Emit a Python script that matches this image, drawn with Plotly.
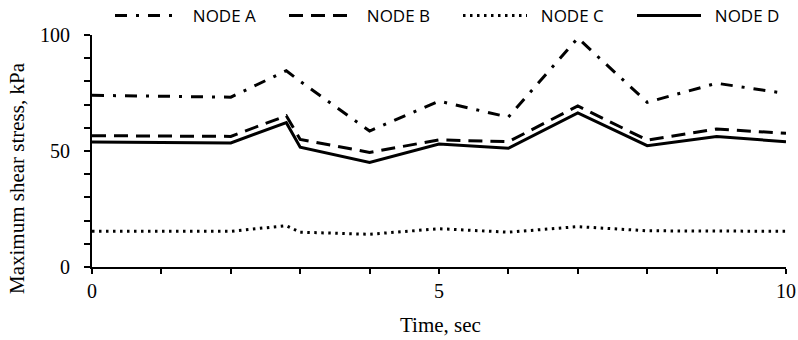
import plotly.graph_objects as go

time = [0, 2, 2.8, 3, 4, 5, 6, 7, 8, 9, 10]
node_a = [74.0, 73.2, 84.6, 80.0, 58.6, 71.5, 64.6, 98.7, 71.0, 79.2, 74.8]
node_b = [56.6, 56.3, 65.2, 55.0, 49.4, 54.8, 54.0, 69.4, 54.7, 59.5, 57.6]
node_c = [15.4, 15.4, 17.8, 15.0, 14.1, 16.5, 15.0, 17.4, 15.6, 15.6, 15.4]
node_d = [53.9, 53.5, 62.2, 51.6, 45.1, 53.0, 51.2, 66.4, 52.3, 56.2, 54.0]

series = [
    ("NODE A", node_a, "12px,9px,3px,9px"),
    ("NODE B", node_b, "14px,8px"),
    ("NODE C", node_c, "2.5px,4.5px"),
    ("NODE D", node_d, "solid"),
]

fig = go.Figure()
for name, vals, dash in series:
    fig.add_trace(go.Scatter(x=time, y=vals, name="\u00a0\u00a0" + name, mode="lines",
                             line=dict(color="black", width=3, dash=dash)))

W, H = 798, 340
L, R, T, B = 92, 12, 35, 73
fig.update_layout(
    width=W, height=H,
    margin=dict(l=L, r=R, t=T, b=B, autoexpand=False),
    plot_bgcolor="white", paper_bgcolor="white",
    font=dict(family="Liberation Serif", color="black"),
    showlegend=True,
    legend=dict(orientation="h", xref="container", yref="container",
                x=110/W, y=1 - 16/H, xanchor="left", yanchor="middle",
                font=dict(family="Open Sans", size=17, color="black"),
                entrywidth=95, entrywidthmode="pixels", itemwidth=64,
                bgcolor="rgba(0,0,0,0)"),
    xaxis=dict(range=[0, 10], dtick=5, tick0=0, showgrid=False, zeroline=False,
               showline=True, linecolor="black", linewidth=2,
               ticks="outside", ticklen=5, tickwidth=2, tickcolor="black",
               tickfont=dict(size=20), ticklabelstandoff=0,
               minor=dict(dtick=1, ticks="outside", ticklen=5, tickwidth=2, tickcolor="black", showgrid=False)),
    yaxis=dict(range=[0, 100], dtick=50, tick0=0, showgrid=False, zeroline=False,
               showline=True, linecolor="black", linewidth=2,
               ticks="outside", ticklen=6, tickwidth=2, tickcolor="black",
               tickfont=dict(size=20), ticklabelstandoff=10,
               minor=dict(dtick=10, ticks="outside", ticklen=6, tickwidth=2, tickcolor="black", showgrid=False)),
    annotations=[
        dict(text="Time, sec", xref="paper", yref="paper",
             x=(440 - L) / (W - L - R), y=(H - B - 325) / (H - T - B),
             xanchor="center", yanchor="middle", showarrow=False,
             font=dict(family="Liberation Serif", size=21, color="black")),
        dict(text="Maximum shear stress, kPa", xref="paper", yref="paper",
             x=(17 - L) / (W - L - R), y=(H - B - 178) / (H - T - B),
             xanchor="center", yanchor="middle", showarrow=False, textangle=-90,
             font=dict(family="Liberation Serif", size=21, color="black")),
    ],
)

fig.write_html("out.html", config={"displayModeBar": False},
               post_script="document.body.style.margin='0';document.body.style.overflow='hidden';")
